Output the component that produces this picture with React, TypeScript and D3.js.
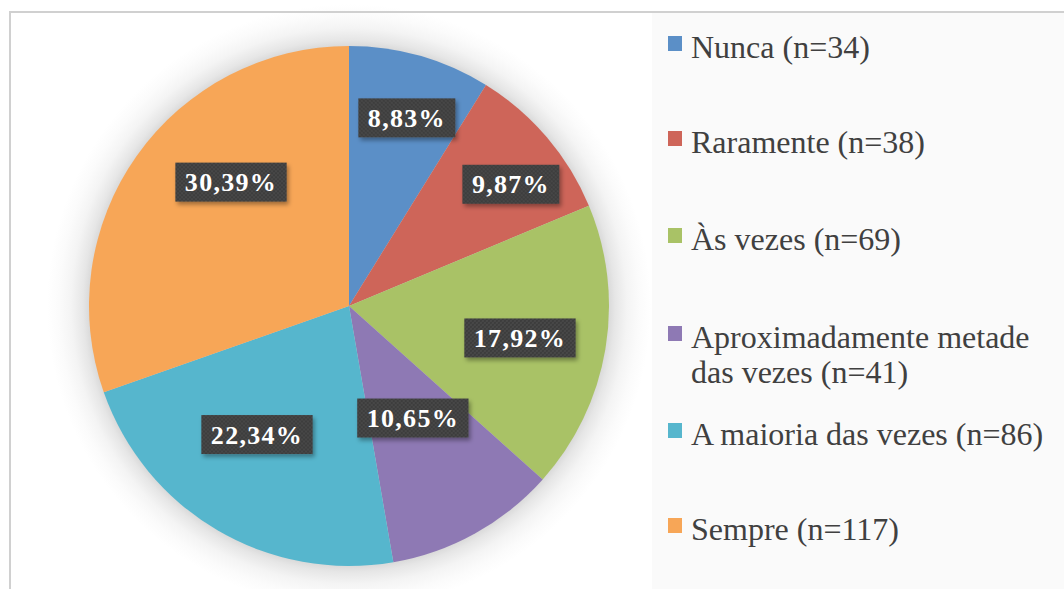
import React, { useEffect, useRef } from "react";
import * as d3 from "d3";

const categories = [
  "Nunca (n=34)",
  "Raramente (n=38)",
  "Às vezes (n=69)",
  "Aproximadamente metade|das vezes (n=41)",
  "A maioria das vezes (n=86)",
  "Sempre (n=117)",
];
const counts = [34, 38, 69, 41, 86, 117];
const percentLabels = ["8,83%", "9,87%", "17,92%", "10,65%", "22,34%", "30,39%"];
const colors = ["#5b8fc7", "#ce6559", "#a9c266", "#8e79b4", "#56b6cd", "#f7a657"];
// label placement (layout): distance from centre as fraction of radius, and angular shift in degrees
const labelRadiusFrac = [0.757, 0.779, 0.669, 0.496, 0.608, 0.658];
const labelAngleShift = [1.2, 3.5, 1.0, -0.7, 5.2, 11.1];
const legendBaselines = [58, 153, 250, 348, 445, 540];

const W = 1064;
const H = 589;
const CX = 349;
const CY = 306;
const R = 260;
const GLOW = 42;

export default function App() {
  const ref = useRef<SVGSVGElement>(null);

  useEffect(() => {
    const svg = d3.select(ref.current);
    svg.selectAll("*").remove();

    const defs = svg.append("defs");
    const ds = defs.append("filter").attr("id", "ds").attr("x", "-20%").attr("y", "-30%").attr("width", "150%").attr("height", "170%");
    ds.append("feDropShadow").attr("dx", 2).attr("dy", 3).attr("stdDeviation", 2).attr("flood-color", "#000").attr("flood-opacity", 0.35);
    const pat = defs.append("pattern").attr("id", "dots").attr("width", 4).attr("height", 4).attr("patternUnits", "userSpaceOnUse");
    pat.append("rect").attr("width", 4).attr("height", 4).attr("fill", "#3e3e3e");
    pat.append("circle").attr("cx", 1).attr("cy", 1).attr("r", 0.7).attr("fill", "#535353");
    pat.append("circle").attr("cx", 3).attr("cy", 3).attr("r", 0.7).attr("fill", "#535353");

    const rg = defs.append("radialGradient").attr("id", "glowGrad")
      .attr("cx", CX).attr("cy", CY).attr("r", R + GLOW).attr("gradientUnits", "userSpaceOnUse");
    const o = (d: number) => (R + d) / (R + GLOW);
    rg.append("stop").attr("offset", o(-4)).attr("stop-color", "#d2d2d2");
    rg.append("stop").attr("offset", o(6)).attr("stop-color", "#e6e6e6");
    rg.append("stop").attr("offset", o(18)).attr("stop-color", "#f4f4f4");
    rg.append("stop").attr("offset", o(30)).attr("stop-color", "#fbfbfb");
    rg.append("stop").attr("offset", 1).attr("stop-color", "#ffffff");

    // background and border
    svg.append("rect").attr("width", W).attr("height", H).attr("fill", "#fff");
    svg.append("rect").attr("x", 652).attr("y", 13).attr("width", W).attr("height", H).attr("fill", "#fafafa");

    // pie shadow glow
    svg.append("circle").attr("cx", CX).attr("cy", CY).attr("r", R + GLOW).attr("fill", "url(#glowGrad)");

    svg.append("rect").attr("x", 10).attr("y", 12).attr("width", 1200).attr("height", 800)
      .attr("fill", "none").attr("stroke", "#d0d0d0").attr("stroke-width", 2);

    const pie = d3.pie<number>().sort(null).value((d) => d);
    const arcs = pie(counts);
    const arc = d3.arc<d3.PieArcDatum<number>>().innerRadius(0).outerRadius(R);

    const g = svg.append("g").attr("transform", `translate(${CX},${CY})`);
    g.selectAll("path.slice").data(arcs).enter().append("path")
      .attr("class", "slice")
      .attr("d", arc)
      .attr("fill", (_, i) => colors[i]);

    // data labels
    arcs.forEach((a, i) => {
      const mid = (a.startAngle + a.endAngle) / 2 + (labelAngleShift[i] * Math.PI) / 180;
      const [x, y] = d3.pointRadial(mid, R * labelRadiusFrac[i]);
      const lg = g.append("g").attr("transform", `translate(${x},${y})`);
      const rect = lg.append("rect").attr("fill", "url(#dots)").attr("filter", "url(#ds)");
      const t = lg.append("text")
        .attr("text-anchor", "middle")
        .attr("dy", "0.35em")
        .attr("fill", "#fff")
        .attr("font-family", "'Liberation Serif', 'DejaVu Serif', serif")
        .attr("font-weight", "bold")
        .attr("font-size", 26)
        .attr("letter-spacing", 1.3)
        .text(percentLabels[i]);
      const bb = (t.node() as SVGTextElement).getBBox();
      const bw = bb.width + 19;
      const bh = 39;
      rect.attr("x", -bw / 2).attr("y", -bh / 2).attr("width", bw).attr("height", bh);
    });

    // legend
    const lgd = svg.append("g");
    categories.forEach((c, i) => {
      const by = legendBaselines[i];
      lgd.append("rect").attr("x", 668).attr("y", by - 22).attr("width", 14).attr("height", 15).attr("fill", colors[i]);
      const lines = c.split("|");
      const t = lgd.append("text")
        .attr("x", 691).attr("y", by)
        .attr("fill", "#404040")
        .attr("font-family", "'Liberation Serif', 'Times New Roman', serif")
        .attr("font-size", 32);
      lines.forEach((ln, k) => {
        t.append("tspan").attr("x", 691).attr("dy", k === 0 ? 0 : 35).text(ln);
      });
    });
  }, []);

  return (
    <svg
      ref={ref}
      width={W}
      height={H}
      style={{ position: "absolute", left: 0, top: 0, display: "block" }}
    />
  );
}
